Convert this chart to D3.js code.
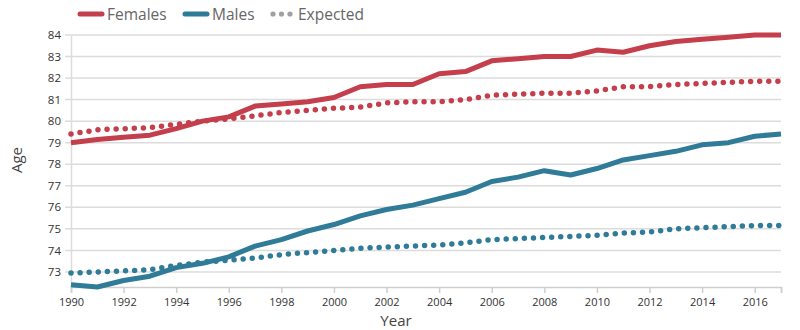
<!DOCTYPE html>
<html>
<head>
<meta charset="utf-8">
<script src="https://cdn.jsdelivr.net/npm/d3@7"></script>
<style>
  body { margin: 0; background: #fff; }
  text { font-family: "Open Sans", sans-serif; }
</style>
</head>
<body>
<div id="chart"></div>
<script>
let years = d3.range(1990, 2018)
let females = [79.0, 79.15, 79.25, 79.35, 79.65, 80.0, 80.2, 80.7, 80.8, 80.9, 81.1, 81.6, 81.7, 81.7,
    82.2, 82.3, 82.8, 82.9, 83.0, 83.0, 83.3, 83.2, 83.5, 83.7, 83.8, 83.9, 84.0, 84.0]
let males = [72.4, 72.3, 72.6, 72.8, 73.2, 73.4, 73.7, 74.2, 74.5, 74.9, 75.2, 75.6, 75.9, 76.1,
    76.4, 76.7, 77.2, 77.4, 77.7, 77.5, 77.8, 78.2, 78.4, 78.6, 78.9, 79.0, 79.3, 79.4]
let femalesExpected = [79.4, 79.6, 79.65, 79.7, 79.85, 80.0, 80.1, 80.25, 80.4, 80.5, 80.6, 80.65, 80.85, 80.9,
    80.9, 81.0, 81.2, 81.25, 81.3, 81.3, 81.4, 81.6, 81.6, 81.7, 81.75, 81.8, 81.85, 81.85]
let malesExpected = [72.95, 73.0, 73.05, 73.1, 73.3, 73.45, 73.55, 73.65, 73.8, 73.9, 74.0, 74.1, 74.15, 74.2,
    74.25, 74.35, 74.5, 74.55, 74.6, 74.65, 74.7, 74.8, 74.85, 75.0, 75.05, 75.1, 75.15, 75.15]
let yTicks = [73, 74, 75, 76, 77, 78, 79, 80, 81, 82, 83, 84]
let xTicks = d3.range(1990, 2017, 2)
let legendItems = ["Females", "Males", "Expected"]

let red = "#c43e4b"
let blue = "#2f7b98"

let width = 800
let height = 330

let svg = d3.select("#chart")
    .append("svg")
    .attr("width", width)
    .attr("height", height)

let x = d3.scaleLinear().domain([1990, 2017]).range([71, 781])
let y = d3.scaleLinear().domain([72.3, 84]).range([287, 35])

// gridlines
svg.append("g")
    .selectAll("line")
    .data(yTicks)
    .join("line")
    .attr("x1", 65)
    .attr("x2", 781)
    .attr("y1", d => y(d))
    .attr("y2", d => y(d))
    .attr("stroke", "#dcdcdc")
    .attr("stroke-width", 1.5)

// y axis
let yAxis = svg.append("g")
    .attr("transform", "translate(71,0)")
    .call(d3.axisLeft(y).tickValues(yTicks).tickSize(0).tickPadding(10))
yAxis.select(".domain").attr("stroke", "#dcdcdc").attr("stroke-width", 1.5)
yAxis.selectAll("text").attr("fill", "#333").style("font-size", "11.5px")

// x axis
let xAxis = svg.append("g")
    .attr("transform", "translate(0,287)")
    .call(d3.axisBottom(x).tickValues(xTicks.concat([2017])).tickFormat(d => d == 2017 ? "" : d).tickSize(6).tickPadding(5))
xAxis.select(".domain").attr("stroke", "#cfcfcf").attr("stroke-width", 1.5)
xAxis.selectAll(".tick line").attr("stroke", "#cfcfcf").attr("stroke-width", 1.5)
xAxis.selectAll("text").attr("fill", "#333").style("font-size", "11px")

// axis titles
svg.append("text")
    .attr("transform", "translate(22,160) rotate(-90)")
    .attr("text-anchor", "middle")
    .attr("fill", "#444")
    .style("font-size", "15px")
    .text("Age")
svg.append("text")
    .attr("x", 396)
    .attr("y", 326)
    .attr("text-anchor", "middle")
    .attr("fill", "#444")
    .style("font-size", "15px")
    .text("Year")

let line = d3.line()
    .x((d, i) => x(years[i]))
    .y(d => y(d))

function drawSeries(values, color, dotted) {
    let path = svg.append("path")
        .datum(values)
        .attr("d", line)
        .attr("fill", "none")
        .attr("stroke", color)
    if (dotted) {
        path.attr("stroke-width", 5.5)
            .attr("stroke-linecap", "round")
            .attr("stroke-dasharray", "0 9.1")
    } else {
        path.attr("stroke-width", 5)
            .attr("stroke-linejoin", "round")
    }
}

drawSeries(femalesExpected, red, true)
drawSeries(malesExpected, blue, true)
drawSeries(females, red, false)
drawSeries(males, blue, false)

// legend
let legendX = [78, 183, 270]
let legendColors = [red, blue, "#a0a0a0"]
let legend = svg.append("g")
legendItems.forEach((name, i) => {
    let g = legend.append("g").attr("transform", "translate(" + legendX[i] + ",14)")
    if (i < 2) {
        g.append("line")
            .attr("x1", 2).attr("x2", 24)
            .attr("y1", 0).attr("y2", 0)
            .attr("stroke", legendColors[i])
            .attr("stroke-width", 5)
            .attr("stroke-linecap", "round")
    } else {
        g.selectAll("circle")
            .data([0, 1, 2])
            .join("circle")
            .attr("cx", d => 3 + d * 8.5)
            .attr("cy", 0)
            .attr("r", 2.6)
            .attr("fill", legendColors[i])
    }
    g.append("text")
        .attr("x", i < 2 ? 29 : 28)
        .attr("y", 5.5)
        .attr("fill", "#666")
        .style("font-size", "15.5px")
        .text(name)
})
</script>
</body>
</html>
